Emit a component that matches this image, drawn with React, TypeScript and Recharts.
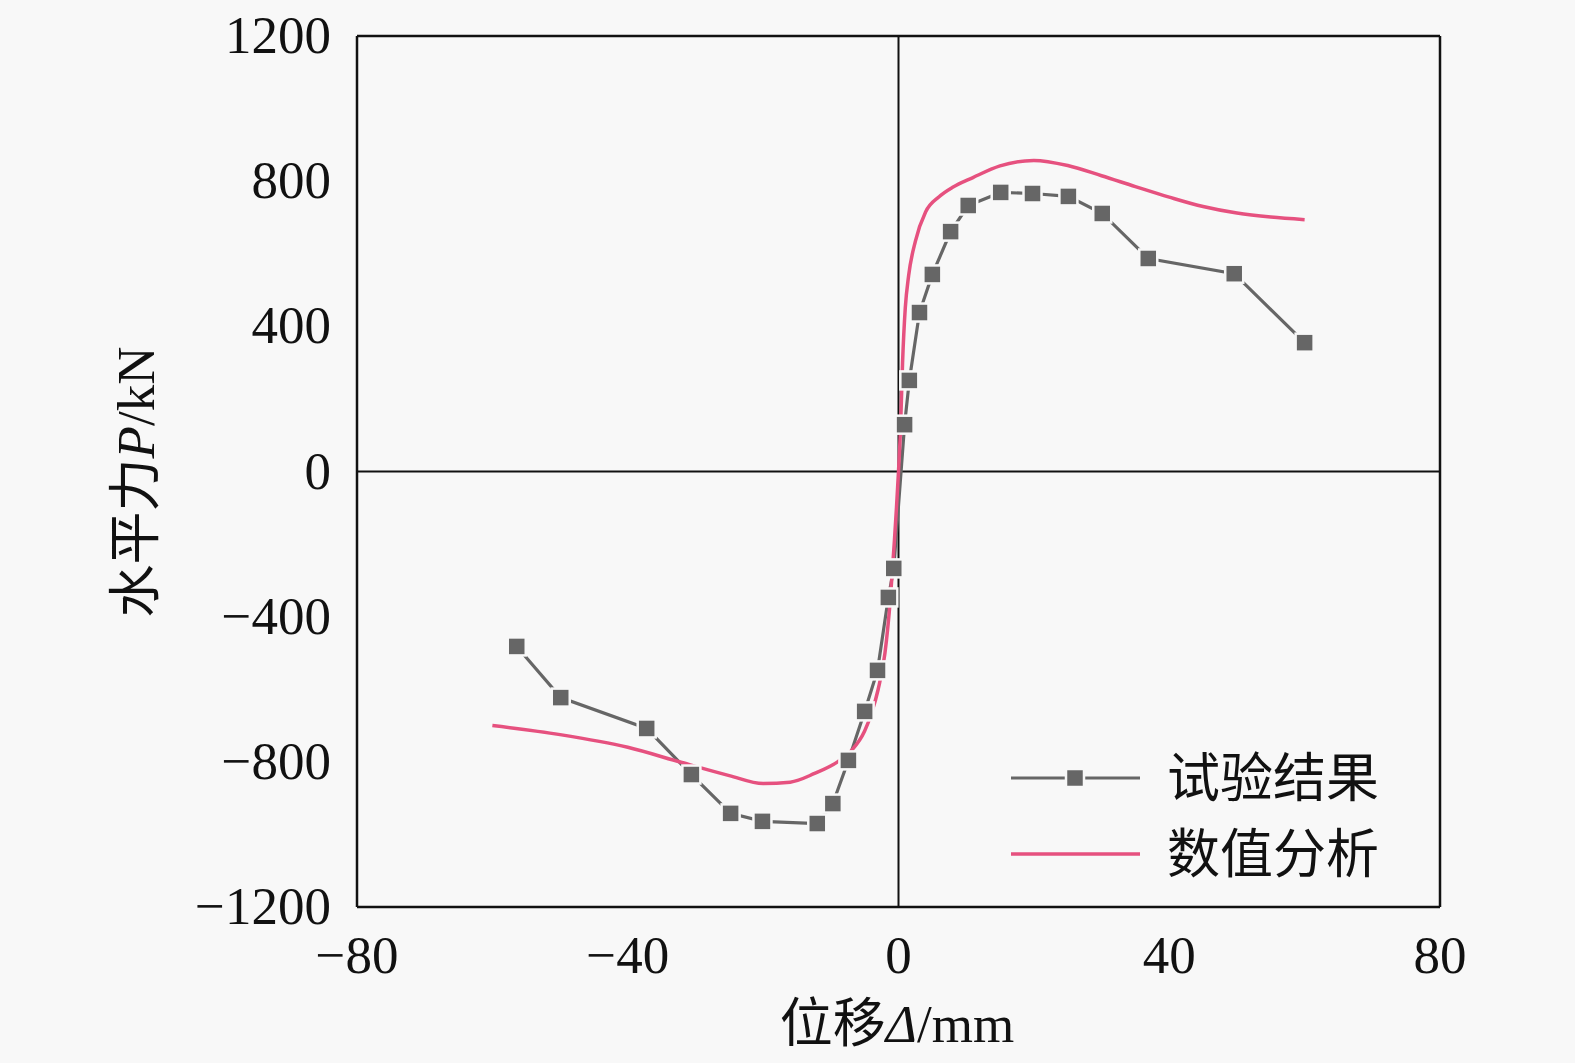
import { LineChart, Line, XAxis, YAxis, ReferenceLine } from "recharts";

// 试验结果 (experimental)
const expX = [-56.4, -49.9, -37.2, -30.6, -24.8, -20.1, -12.0, -9.7, -7.4, -5.0, -3.1, -1.5, -0.7, 0.9, 1.6, 3.1, 5.0, 7.7, 10.3, 15.1, 19.8, 25.1, 30.1, 36.9, 49.6, 60.0];
const expY = [-482, -623, -708, -835, -942, -964, -970, -915, -796, -661, -548, -347, -267, 129, 251, 438, 543, 661, 733, 769, 766, 758, 711, 587, 545, 355];

// 数值分析 (numerical)
const numX = [-60, -50, -40, -32, -25, -20, -16, -12.4, -9, -7, -5, -4, -3, -2, -1.2, -0.6, -0.3, 0, 0.3, 0.6, 1.0, 1.5, 2.5, 4, 6, 8, 11, 15, 20, 25, 30, 35, 40, 45, 50, 55, 60];
const numY = [-700, -725, -760, -802, -838, -860, -856, -832, -800, -770, -715, -667, -600, -500, -350, -190, -100, 0, 120, 300, 450, 540, 635, 715, 757, 783, 810, 842, 857, 843, 815, 785, 756, 730, 712, 701, 694];

const xTicks = [-80, -40, 0, 40, 80];
const yTicks = [-1200, -800, -400, 0, 400, 800, 1200];

const expData = expX.map((x, i) => ({ x, y: expY[i] }));
const numData = numX.map((x, i) => ({ x, y: numY[i] }));

const FONT = '"Liberation Serif", "Times New Roman", "Noto Sans CJK SC", serif';
const GRAY = "#666666";
const PINK = "#e6517f";
const BG = "#f8f8f8";

const fmt = (v: number) => (v < 0 ? `\u2212${Math.abs(v)}` : `${v}`);

function SquareDot(props: any) {
  const { cx, cy } = props;
  if (cx == null || cy == null) return null;
  return <rect x={cx - 9} y={cy - 9} width={18} height={18} fill={GRAY} stroke={BG} strokeWidth={2.5} />;
}

function XTick(props: any) {
  const { x, y, payload } = props;
  return (
    <text x={x} y={y + 66} textAnchor="middle" fontSize={53} fontFamily={FONT} fill="#111">
      {fmt(payload.value)}
    </text>
  );
}

function YTick(props: any) {
  const { x, y, payload } = props;
  return (
    <text x={x - 26} y={y + 17} textAnchor="end" fontSize={53} fontFamily={FONT} fill="#111">
      {fmt(payload.value)}
    </text>
  );
}

function XLabel() {
  return (
    <text x={897} y={1042} textAnchor="middle" fontSize={53} fontFamily={FONT} fill="#111">
      位移<tspan fontStyle="italic">Δ</tspan>/mm
    </text>
  );
}

function YLabel() {
  return (
    <text
      x={0}
      y={0}
      transform="translate(154 482) rotate(-90)"
      textAnchor="middle"
      fontSize={53}
      fontFamily={FONT}
      fill="#111"
    >
      水平力<tspan fontStyle="italic">P</tspan>/kN
    </text>
  );
}

function LegendBox() {
  return (
    <svg width={420} height={150} style={{ position: "absolute", left: 1005, top: 745 }}>
      <line x1={6} y1={33} x2={135} y2={33} stroke={GRAY} strokeWidth={3.2} />
      <rect x={61} y={24} width={18} height={18} fill={GRAY} stroke={BG} strokeWidth={2.5} />
      <text x={162} y={52} fontSize={53} fontFamily={FONT} fill="#111">试验结果</text>
      <line x1={6} y1={109} x2={135} y2={109} stroke={PINK} strokeWidth={3.5} />
      <text x={162} y={128} fontSize={53} fontFamily={FONT} fill="#111">数值分析</text>
    </svg>
  );
}

export default function App() {
  return (
    <div style={{ width: 1575, height: 1063, background: BG, position: "relative" }}>
      <style>{"body{margin:0}"}</style>
      <LineChart width={1575} height={1063} margin={{ top: 36, right: 135, left: 0, bottom: 0 }}>
        <XAxis
          type="number"
          dataKey="x"
          domain={[-80, 80]}
          ticks={xTicks}
          allowDataOverflow
          height={156}
          tickSize={0}
          tickMargin={0}
          tickLine={false}
          axisLine={{ stroke: "#111", strokeWidth: 2.5 }}
          tick={<XTick />}
          label={<XLabel />}
        />
        <YAxis
          type="number"
          dataKey="y"
          domain={[-1200, 1200]}
          ticks={yTicks}
          allowDataOverflow
          width={357}
          tickSize={0}
          tickMargin={0}
          tickLine={false}
          axisLine={{ stroke: "#111", strokeWidth: 2.5 }}
          tick={<YTick />}
          label={<YLabel />}
        />
        <ReferenceLine y={1200} stroke="#111" strokeWidth={2.5} />
        <ReferenceLine x={80} stroke="#111" strokeWidth={2.5} />
        <ReferenceLine y={0} stroke="#111" strokeWidth={2} />
        <ReferenceLine x={0} stroke="#111" strokeWidth={2} />
        <Line
          data={expData}
          dataKey="y"
          type="linear"
          stroke={GRAY}
          strokeWidth={3.2}
          dot={<SquareDot />}
          activeDot={false}
          isAnimationActive={false}
          name="试验结果"
        />
        <Line
          data={numData}
          dataKey="y"
          type="monotone"
          stroke={PINK}
          strokeWidth={3.5}
          dot={false}
          activeDot={false}
          isAnimationActive={false}
          name="数值分析"
        />
      </LineChart>
      <LegendBox />
    </div>
  );
}
